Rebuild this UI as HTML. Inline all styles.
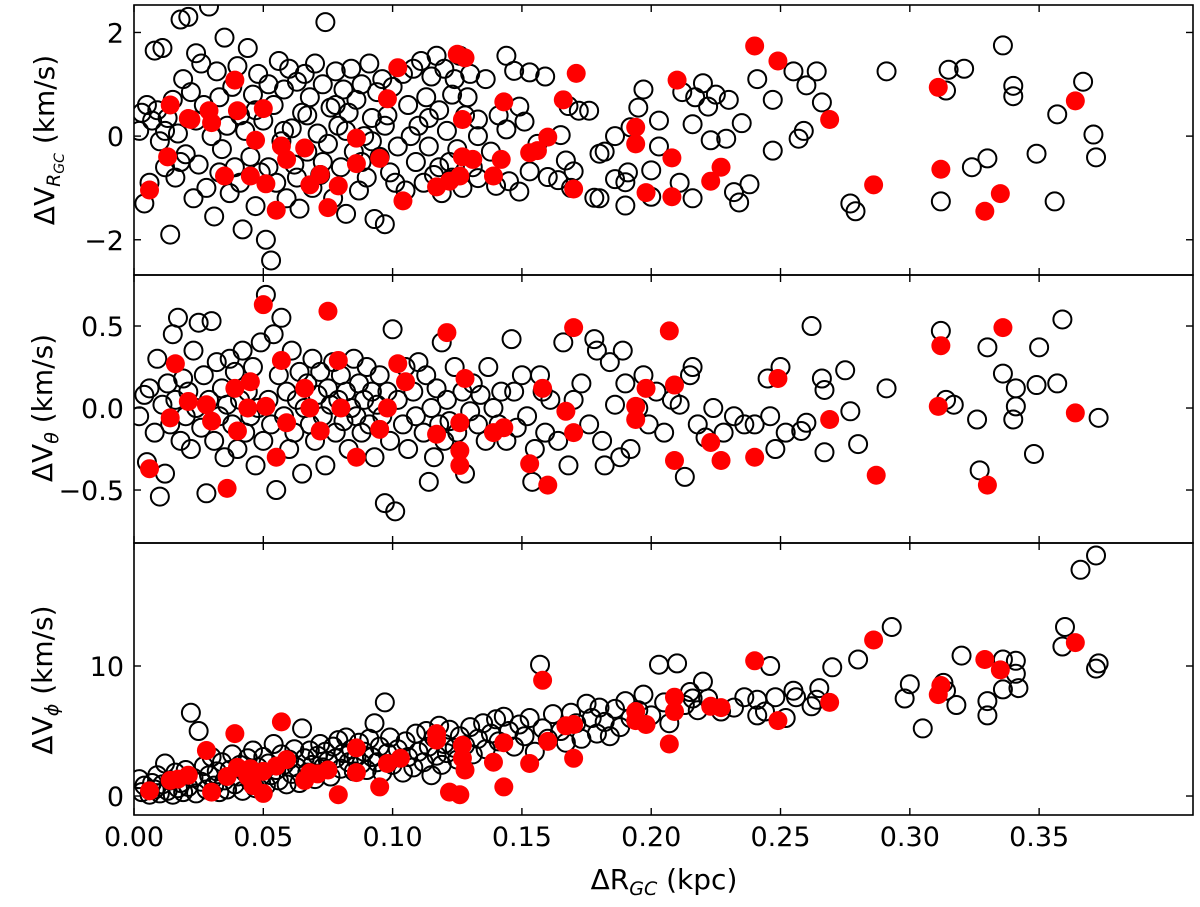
<!DOCTYPE html>
<html><head><meta charset="utf-8"><style>
html,body{margin:0;padding:0;background:#fff;}
svg text{font-family:"DejaVu Sans","Liberation Sans",sans-serif;fill:#000;}
</style></head><body>
<svg id="chart" width="1200" height="902" xmlns="http://www.w3.org/2000/svg"></svg>
<script>
// ---- data ----
const xTicks=[0,0.05,0.10,0.15,0.20,0.25,0.30,0.35];
const xTickLabels=["0.00","0.05","0.10","0.15","0.20","0.25","0.30","0.35"];
const yTicksTop=[-2,0,2];
const yTicksMid=[-0.5,0,0.5];
const yTicksBot=[0,10];
const yTickLabelsTop=["\u22122","0","2"];
const yTickLabelsMid=["\u22120.5","0.0","0.5"];
const yTickLabelsBot=["0","10"];

const redTop=[[0.006,-1.04],[0.013,-0.40],[0.014,0.60],[0.021,0.34],[0.022,0.32],[0.029,0.49],[0.030,0.26],[0.035,-0.77],[0.039,1.08],[0.040,0.49],[0.045,-0.77],[0.047,-0.08],[0.050,0.53],[0.051,-0.92],[0.055,-1.43],[0.057,-0.19],[0.059,-0.45],[0.066,-0.23],[0.068,-0.94],[0.072,-0.74],[0.075,-1.38],[0.079,-0.96],[0.086,-0.53],[0.086,-0.04],[0.095,-0.43],[0.098,0.72],[0.102,1.32],[0.104,-1.25],[0.117,-0.98],[0.122,-0.87],[0.126,-0.77],[0.127,-0.40],[0.127,0.32],[0.125,1.58],[0.128,1.51],[0.131,-0.45],[0.139,-0.77],[0.142,-0.45],[0.143,0.66],[0.153,-0.32],[0.156,-0.28],[0.160,-0.02],[0.166,0.70],[0.170,-1.02],[0.171,1.21],[0.194,0.17],[0.194,-0.15],[0.198,-1.09],[0.208,-1.17],[0.208,-0.42],[0.210,1.08],[0.223,-0.87],[0.227,-0.60],[0.240,1.74],[0.249,1.45],[0.269,0.32],[0.286,-0.94],[0.311,0.94],[0.312,-0.64],[0.329,-1.45],[0.335,-1.11],[0.364,0.68]];
const redMid=[[0.006,-0.37],[0.016,0.27],[0.014,-0.06],[0.021,0.04],[0.028,0.02],[0.030,-0.08],[0.036,-0.49],[0.039,0.12],[0.040,-0.14],[0.045,0.16],[0.044,0.0],[0.050,0.63],[0.051,0.01],[0.055,-0.30],[0.057,0.29],[0.059,-0.09],[0.066,0.12],[0.068,0.0],[0.072,-0.14],[0.075,0.59],[0.079,0.29],[0.080,0.0],[0.086,-0.30],[0.095,-0.13],[0.098,0.0],[0.102,0.27],[0.105,0.16],[0.117,-0.16],[0.121,0.46],[0.126,-0.26],[0.126,-0.09],[0.126,-0.35],[0.128,0.18],[0.139,-0.15],[0.143,-0.12],[0.153,-0.34],[0.158,0.12],[0.160,-0.47],[0.167,-0.02],[0.170,0.49],[0.170,-0.15],[0.194,-0.07],[0.194,0.01],[0.198,0.12],[0.207,0.47],[0.209,0.14],[0.209,-0.32],[0.223,-0.21],[0.227,-0.32],[0.240,-0.30],[0.249,0.18],[0.269,-0.07],[0.287,-0.41],[0.311,0.01],[0.312,0.38],[0.330,-0.47],[0.336,0.49],[0.364,-0.03]];
const redBot=[[0.006,0.4],[0.014,1.2],[0.017,1.3],[0.021,1.6],[0.028,3.5],[0.030,0.3],[0.036,1.5],[0.039,4.8],[0.040,2.2],[0.044,1.5],[0.045,2.1],[0.046,0.8],[0.050,0.2],[0.050,1.9],[0.055,2.3],[0.057,5.7],[0.059,2.8],[0.066,1.2],[0.068,1.8],[0.071,1.7],[0.075,2.0],[0.079,0.1],[0.086,1.8],[0.086,3.7],[0.095,0.7],[0.098,2.5],[0.103,2.9],[0.117,4.3],[0.117,4.8],[0.122,0.3],[0.126,0.1],[0.127,3.9],[0.127,2.9],[0.128,2.0],[0.139,2.6],[0.143,4.1],[0.143,0.7],[0.153,2.5],[0.158,8.9],[0.160,4.2],[0.167,5.4],[0.170,5.5],[0.170,2.9],[0.194,6.5],[0.194,5.8],[0.198,5.5],[0.207,4.0],[0.209,7.6],[0.209,6.5],[0.223,6.9],[0.227,6.8],[0.240,10.4],[0.249,5.8],[0.269,7.2],[0.286,12.0],[0.311,7.8],[0.312,8.5],[0.329,10.5],[0.335,9.7],[0.364,11.8]];

const blackTop=[[0.002,0.1],[0.003,0.45],[0.004,-1.3],[0.006,-0.9],[0.007,0.3],[0.008,1.65],[0.009,0.5],[0.010,-0.1],[0.011,1.7],[0.012,-0.6],[0.013,0.35],[0.014,-1.9],[0.015,0.7],[0.016,-0.8],[0.017,0.05],[0.018,2.25],[0.019,1.1],[0.020,-0.35],[0.021,2.3],[0.022,0.85],[0.023,-1.2],[0.024,1.6],[0.025,-0.55],[0.026,1.4],[0.027,0.6],[0.028,-1.0],[0.029,2.5],[0.030,0.0],[0.031,-1.55],[0.032,1.25],[0.033,0.75],[0.034,-0.25],[0.035,1.9],[0.036,0.2],[0.037,-1.1],[0.038,0.95],[0.039,-0.6],[0.040,1.35],[0.041,0.4],[0.042,-1.8],[0.043,0.1],[0.044,1.7],[0.045,-0.4],[0.046,0.8],[0.047,-1.35],[0.048,1.2],[0.049,-0.7],[0.050,0.3],[0.051,-2.0],[0.052,1.0],[0.053,-2.4],[0.054,0.6],[0.055,-0.9],[0.056,1.45],[0.057,-0.1],[0.058,0.9],[0.059,-1.2],[0.060,1.3],[0.061,0.15],[0.062,-0.55],[0.063,1.05],[0.064,-1.4],[0.065,0.45],[0.066,1.2],[0.067,-0.3],[0.068,0.75],[0.069,-1.0],[0.070,1.4],[0.071,0.05],[0.072,-0.75],[0.073,1.0],[0.074,2.2],[0.075,-0.15],[0.076,0.55],[0.077,-1.2],[0.078,1.25],[0.079,0.2],[0.080,-0.6],[0.081,0.9],[0.082,-1.5],[0.083,0.45],[0.084,1.3],[0.085,-0.3],[0.086,0.7],[0.087,-1.05],[0.088,1.0],[0.089,0.0],[0.090,-0.8],[0.091,1.4],[0.092,0.35],[0.093,-1.6],[0.094,0.85],[0.095,-0.4],[0.096,1.1],[0.097,-1.7],[0.098,0.4],[0.099,-0.7],[0.100,0.95],[0.102,-0.2],[0.104,1.2],[0.105,-1.05],[0.106,0.6],[0.108,1.3],[0.109,-0.5],[0.110,0.2],[0.111,1.45],[0.112,-0.9],[0.113,0.75],[0.114,-0.2],[0.115,1.15],[0.116,-0.75],[0.117,1.55],[0.118,0.5],[0.119,-1.1],[0.120,1.3],[0.121,0.1],[0.122,-0.5],[0.123,0.8],[0.124,1.1],[0.125,-0.25],[0.126,1.55],[0.127,-1.0],[0.128,0.4],[0.130,1.2],[0.131,-0.6],[0.133,0.0],
[0.005,0.6],[0.012,0.1],[0.018,-0.5],[0.024,0.3],[0.033,-0.7],[0.041,-0.9],[0.047,0.5],[0.052,-0.6],[0.058,0.1],[0.063,-0.8],[0.067,0.4],[0.073,-0.5],[0.078,0.6],[0.082,0.1],[0.088,-0.5],[0.092,-0.1],[0.097,0.2],[0.101,-0.9],[0.107,0.0],[0.114,0.35],[0.118,-0.6],[0.123,-0.8],[0.129,0.75],
[0.336,1.75],[0.321,1.3],[0.291,1.25],[0.315,1.28],[0.34,0.97],[0.34,0.77],[0.367,1.05],[0.314,0.88],[0.357,0.42],[0.371,0.03],[0.349,-0.34],[0.372,-0.41],[0.33,-0.43],[0.324,-0.6],[0.312,-1.26],[0.356,-1.26],[0.277,-1.3],[0.279,-1.45],[0.264,1.25],[0.255,1.25],[0.26,0.98],[0.266,0.65],[0.259,0.1],[0.257,-0.05],[0.241,1.1],[0.247,0.7],[0.23,0.7],[0.235,0.25],[0.247,-0.28],[0.238,-0.93],[0.232,-1.08],[0.234,-1.28],[0.212,0.85],[0.22,1.02],[0.225,0.8],[0.222,0.57],[0.229,-0.05],[0.216,0.23],[0.203,0.3],[0.203,-0.2],[0.223,-0.08],[0.195,0.55],[0.192,0.17],[0.2,-0.66],[0.2,-1.17],[0.19,-0.89],[0.186,-0.83],[0.191,-0.7],[0.18,-0.34],[0.182,-0.3],[0.19,-1.34],[0.18,-1.2],[0.178,-1.19],[0.168,0.58],[0.176,0.49],[0.172,0.49],[0.165,0.02],[0.167,-0.47],[0.17,-0.68],[0.16,-0.79],[0.164,-0.85],[0.169,-1.0],[0.159,1.15],[0.147,1.26],[0.153,1.23],[0.144,1.55],[0.149,0.57],[0.141,0.4],[0.144,0.13],[0.133,0.32],[0.151,0.28],[0.156,-0.15],[0.153,-0.68],[0.145,-0.87],[0.149,-1.07],[0.14,-0.96],[0.133,-0.81],[0.136,1.1],[0.138,-0.3],[0.186,0.0],[0.197,0.9],[0.217,0.75],[0.216,-1.2],[0.211,-0.9]];

const blackMid=[[0.002,-0.05],[0.004,0.08],[0.005,-0.33],[0.006,0.12],[0.008,-0.15],[0.009,0.3],[0.010,-0.54],[0.011,0.02],[0.012,-0.4],[0.013,0.15],[0.014,-0.1],[0.015,0.45],[0.016,0.05],[0.017,0.55],[0.018,-0.2],[0.019,0.18],[0.020,-0.05],[0.021,0.1],[0.022,-0.25],[0.023,0.35],[0.024,0.0],[0.025,0.52],[0.026,-0.12],[0.027,0.2],[0.028,-0.52],[0.029,0.05],[0.030,0.53],[0.031,-0.2],[0.032,0.28],[0.033,-0.05],[0.034,0.12],[0.035,-0.3],[0.036,0.02],[0.037,0.3],[0.038,-0.1],[0.039,0.22],[0.040,-0.25],[0.041,0.05],[0.042,0.35],[0.043,-0.15],[0.044,0.1],[0.045,-0.05],[0.046,0.25],[0.047,-0.35],[0.048,0.0],[0.049,0.4],[0.050,-0.2],[0.051,0.69],[0.052,0.05],[0.053,-0.1],[0.054,0.45],[0.055,-0.5],[0.056,0.2],[0.057,0.55],[0.058,-0.05],[0.059,0.1],[0.060,-0.25],[0.061,0.35],[0.062,-0.15],[0.063,0.05],[0.064,0.22],[0.065,-0.4],[0.066,0.0],[0.067,0.15],[0.068,-0.1],[0.069,0.3],[0.070,-0.2],[0.071,0.08],[0.072,0.22],[0.073,-0.05],[0.074,-0.35],[0.075,0.12],[0.076,0.02],[0.077,0.28],[0.078,-0.15],[0.079,0.05],[0.080,0.2],[0.081,-0.08],[0.082,0.1],[0.083,-0.25],[0.084,0.0],[0.085,0.3],[0.086,-0.05],[0.087,0.15],[0.088,-0.15],[0.089,0.05],[0.090,0.25],[0.091,-0.1],[0.092,0.1],[0.093,-0.3],[0.094,0.02],[0.095,0.2],[0.096,-0.05],[0.097,-0.58],[0.098,0.1],[0.099,-0.2],[0.100,0.48],[0.101,-0.63],[0.102,0.05],[0.104,-0.1],[0.105,0.25],[0.106,-0.25],[0.108,0.1],[0.109,-0.05],[0.110,0.28],[0.112,-0.15],[0.113,0.2],[0.114,-0.45],[0.115,0.0],[0.116,-0.3],[0.117,0.12],[0.118,-0.1],[0.119,0.4],[0.120,-0.2],[0.121,0.05],[0.122,-0.08],[0.124,0.25],[0.125,-0.15],[0.127,0.1],[0.128,-0.4],[0.130,-0.02],[0.131,0.15],[0.133,-0.1],[0.134,0.08],[0.136,-0.2],[0.137,0.25],[0.139,0.0],[0.141,-0.1],[0.142,0.1],[0.144,-0.2],[0.146,0.42],[0.147,0.1],[0.148,-0.12],[0.150,0.2],[0.152,-0.05],[0.154,-0.45],[0.155,-0.25],[0.157,0.2],[0.158,0.1],[0.159,-0.15],[0.161,0.05],[0.164,-0.2],[0.166,0.4],[0.168,-0.35],[0.170,0.05],[0.173,0.15],[0.176,-0.1],[0.178,0.42],[0.179,0.35],[0.181,-0.2],[0.182,-0.35],[0.184,0.28],[0.186,0.02],[0.188,-0.3],[0.190,0.15],[0.192,-0.25],[0.195,0.0],[0.197,0.2],[0.199,-0.1],[0.202,0.1],[0.205,-0.15],[0.208,0.05],[0.211,0.02],[0.213,-0.42],[0.215,0.2],[0.216,0.25],[0.218,-0.1],[0.221,-0.18],[0.224,0.0],[0.228,-0.15],[0.232,-0.05],[0.236,-0.1],[0.240,-0.1],[0.245,0.18],[0.246,-0.05],[0.248,-0.25],[0.250,0.25],[0.252,-0.15],[0.258,-0.14],[0.26,-0.09],[0.266,0.18],[0.267,-0.27],[0.267,0.11],[0.275,0.23],[0.277,-0.02],[0.28,-0.22],[0.291,0.12],[0.314,0.05],[0.317,0.02],[0.326,-0.07],[0.327,-0.38],[0.312,0.47],[0.33,0.37],[0.336,0.21],[0.341,0.12],[0.341,0.01],[0.34,-0.07],[0.359,0.54],[0.35,0.37],[0.357,0.15],[0.349,0.14],[0.373,-0.06],[0.348,-0.28],[0.262,0.5],[0.189,0.35]];

const blackBot=[[0.002,1.3],[0.003,0.3],[0.004,0.8],[0.006,0.1],[0.007,1.0],[0.008,0.5],[0.009,1.6],[0.010,0.2],[0.011,0.9],[0.012,2.5],[0.013,0.4],[0.014,1.2],[0.015,0.1],[0.016,1.8],[0.017,0.6],[0.018,1.0],[0.019,0.3],[0.020,2.0],[0.021,0.7],[0.022,6.4],[0.023,1.4],[0.024,0.2],[0.025,5.0],[0.026,1.1],[0.027,2.3],[0.028,0.5],[0.029,1.6],[0.030,3.0],[0.031,0.8],[0.032,1.9],[0.033,0.3],[0.034,2.6],[0.035,1.2],[0.036,0.5],[0.037,2.0],[0.038,3.2],[0.039,0.9],[0.040,1.5],[0.041,2.4],[0.042,0.4],[0.043,1.8],[0.044,2.9],[0.045,1.1],[0.046,3.5],[0.047,0.6],[0.048,2.2],[0.049,1.5],[0.050,3.0],[0.051,0.8],[0.052,2.5],[0.053,1.6],[0.054,4.0],[0.055,2.0],[0.056,1.2],[0.057,3.2],[0.058,2.4],[0.059,0.9],[0.060,2.8],[0.061,1.7],[0.062,3.6],[0.063,2.2],[0.064,1.0],[0.065,5.2],[0.066,2.9],[0.067,1.8],[0.068,3.5],[0.069,2.4],[0.070,1.3],[0.071,3.1],[0.072,4.0],[0.073,2.2],[0.074,3.4],[0.075,2.7],[0.076,1.5],[0.077,3.8],[0.078,2.9],[0.079,4.3],[0.080,2.1],[0.081,3.3],[0.082,4.5],[0.083,2.6],[0.084,3.6],[0.085,1.9],[0.086,3.0],[0.087,4.1],[0.088,2.5],[0.089,3.4],[0.090,2.0],[0.091,4.4],[0.092,3.0],[0.093,5.6],[0.094,2.6],[0.095,3.8],[0.096,1.8],[0.097,7.2],[0.098,3.3],[0.099,4.5],[0.100,2.4],[0.102,3.6],[0.104,1.8],[0.105,4.2],[0.106,3.0],[0.108,2.2],[0.109,4.8],[0.110,3.4],[0.112,2.6],[0.113,5.0],[0.114,3.8],[0.115,1.6],[0.116,4.5],[0.117,3.1],[0.118,5.4],[0.119,2.4],[0.120,4.0],[0.121,3.3],[0.122,5.1],[0.124,3.7],[0.125,2.8],[0.126,4.6],[0.128,3.9],[0.130,5.3],[0.131,3.2],[0.133,4.4],[0.135,5.6],[0.136,3.6],[0.138,4.8],[0.140,5.9],[0.141,4.2],[0.143,6.1],[0.145,5.0],[0.147,3.8],[0.149,5.5],[0.151,4.6],[0.153,6.0],[0.155,3.4],[0.157,10.1],[0.158,5.2],[0.160,4.4],[0.162,6.3],[0.165,5.0],[0.167,4.1],[0.169,6.4],[0.171,5.6],[0.173,4.4],[0.175,7.1],[0.177,6.0],[0.179,4.8],[0.180,6.8],[0.182,5.7],[0.184,4.6],[0.186,6.7],[0.188,5.3],[0.190,7.3],[0.192,6.0],[0.195,6.6],[0.197,7.8],[0.200,6.2],[0.203,10.1],[0.205,7.2],[0.207,5.6],[0.21,10.2],[0.213,7.0],[0.215,8.0],[0.216,7.5],[0.218,6.6],[0.22,8.8],[0.222,7.5],[0.227,6.5],[0.232,6.8],[0.236,7.6],[0.241,7.4],[0.241,6.2],[0.244,6.5],[0.246,10.0],[0.248,7.6],[0.252,6.0],[0.255,8.1],[0.256,7.6],[0.262,6.9],[0.264,7.4],[0.265,8.3],[0.27,9.9],[0.28,10.5],[0.293,13.0],[0.298,7.5],[0.313,8.7],[0.314,8.1],[0.318,7.0],[0.33,7.3],[0.33,6.2],[0.336,10.5],[0.336,8.2],[0.341,10.4],[0.341,9.4],[0.342,8.3],[0.359,11.5],[0.36,13.0],[0.366,17.4],[0.372,18.5],[0.372,9.8],[0.373,10.2],[0.305,5.2],[0.32,10.8],[0.3,8.6]];

// ---- layout ----
const NS="http://www.w3.org/2000/svg";
const svg=document.getElementById('chart');
const L=134,R=1193,X0=0,X1=0.4095;
const panels=[
 {name:'top',top:5,bot:275,y0:-2.68,y1:2.53,ticks:yTicksTop,labels:yTickLabelsTop,black:blackTop,red:redTop},
 {name:'middle',top:275,bot:543,y0:-0.823,y1:0.811,ticks:yTicksMid,labels:yTickLabelsMid,black:blackMid,red:redMid},
 {name:'bottom',top:543,bot:815,y0:-1.46,y1:19.46,ticks:yTicksBot,labels:yTickLabelsBot,black:blackBot,red:redBot}
];
function xs(v){return L+(v-X0)/(X1-X0)*(R-L);}
function mk(tag,attrs,parent){const e=document.createElementNS(NS,tag);for(const k in attrs)e.setAttribute(k,attrs[k]);(parent||svg).appendChild(e);return e;}

const defs=mk('defs',{});
panels.forEach((p,i)=>{
  const cp=mk('clipPath',{id:'clip'+i},defs);
  mk('rect',{x:L,y:p.top,width:R-L,height:p.bot-p.top},cp);
});

panels.forEach((p,i)=>{
  const ys=v=>p.bot-(v-p.y0)/(p.y1-p.y0)*(p.bot-p.top);
  const g=mk('g',{'clip-path':'url(#clip'+i+')'});
  
  
  p.black.forEach(d=>{
    const c=mk('circle',{cx:xs(d[0]),cy:ys(d[1]),r:9,fill:'none',stroke:'#000','stroke-width':2},g);
    
    
  });
  p.red.forEach(d=>{
    const c=mk('circle',{cx:xs(d[0]),cy:ys(d[1]),r:9.5,fill:'#ff0000'},g);
    
    
  });
  const fr=mk('rect',{x:L,y:p.top,width:R-L,height:p.bot-p.top,fill:'none',stroke:'#000','stroke-width':1.6});
  
  
  xTicks.forEach(t=>{
    const x=xs(t);
    mk('line',{x1:x,x2:x,y1:p.bot,y2:p.bot-7,stroke:'#000','stroke-width':1.4});
    mk('line',{x1:x,x2:x,y1:p.top,y2:p.top+7,stroke:'#000','stroke-width':1.4});
  });
  p.ticks.forEach((t,j)=>{
    const y=ys(t);
    mk('line',{x1:L,x2:L+7,y1:y,y2:y,stroke:'#000','stroke-width':1.4});
    mk('line',{x1:R,x2:R-7,y1:y,y2:y,stroke:'#000','stroke-width':1.4});
    const tx=mk('text',{x:L-10,y:y+10,'text-anchor':'end','font-size':27});
    tx.textContent=p.labels[j];
    
    
  });
});

xTicks.forEach((t,j)=>{
  const tx=mk('text',{x:xs(t),y:846,'text-anchor':'middle','font-size':27});
  tx.textContent=xTickLabels[j];
  
  
});
</script>
<svg width="1200" height="902" style="position:absolute;left:0;top:0" xmlns="http://www.w3.org/2000/svg">
  <text x="664" y="889" text-anchor="middle" font-size="28" font-family="DejaVu Sans, Liberation Sans, sans-serif">ΔR<tspan font-style="italic" font-size="19" dy="6">GC</tspan><tspan dy="-6"> (kpc)</tspan></text>
  <text transform="translate(54,140) rotate(-90)" text-anchor="middle" font-size="28" font-family="DejaVu Sans, Liberation Sans, sans-serif">ΔV<tspan font-style="italic" font-size="19" dy="6">R</tspan><tspan font-style="italic" font-size="14" dy="4">GC</tspan><tspan dy="-10"> (km/s)</tspan></text>
  <text transform="translate(52,408) rotate(-90)" text-anchor="middle" font-size="28" font-family="DejaVu Sans, Liberation Sans, sans-serif">ΔV<tspan font-style="italic" font-size="19" dy="6">θ</tspan><tspan dy="-6"> (km/s)</tspan></text>
  <text transform="translate(52,680) rotate(-90)" text-anchor="middle" font-size="28" font-family="DejaVu Sans, Liberation Sans, sans-serif">ΔV<tspan font-style="italic" font-size="19" dy="6">ϕ</tspan><tspan dy="-6"> (km/s)</tspan></text>
</svg>
</body></html>
